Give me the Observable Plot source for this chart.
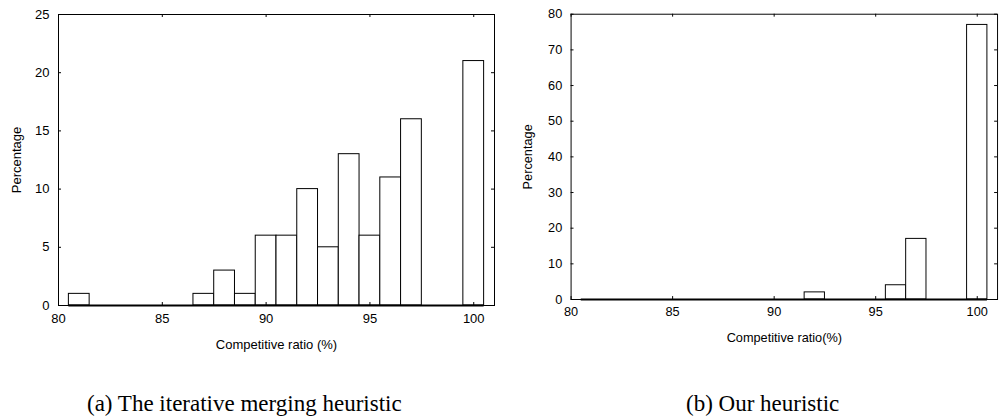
<!DOCTYPE html>
<html><head><meta charset="utf-8">
<script src="https://cdn.jsdelivr.net/npm/d3@7"></script>
<script src="https://cdn.jsdelivr.net/npm/@observablehq/plot@0.6"></script>
<style>
html,body{margin:0;padding:0;background:#fff}
body{overflow:hidden;width:1000px;height:416px;position:relative;font-family:"Liberation Sans",Arial,sans-serif}
#a{position:absolute;left:0;top:0}
#b{position:absolute;left:500px;top:0}
.cap{position:absolute;font-family:"Liberation Serif","Times New Roman",serif;font-size:23px;white-space:nowrap;line-height:1;color:#000}
#capA{left:87px;top:392px}
#capB{left:686px;top:392px}
</style></head><body>
<div id="a"></div><div id="b"></div>
<div class="cap" id="capA">(a) The iterative merging heuristic</div>
<div class="cap" id="capB">(b) Our heuristic</div>
<script>
// Competitive ratio bins (%), centre of each 1%-wide bin
const ratios = [81,82,83,84,85,86,87,88,89,90,91,92,93,94,95,96,97,98,99,100];
// (a) The iterative merging heuristic: percentage per bin
const iterativeMerging = [1,0,0,0,0,0,1,3,1,6,6,10,5,13,6,11,16,0,0,21];
// (b) Our heuristic: percentage per bin
const ourHeuristic = [0,0,0,0,0,0,0,0,0,0,0,2,0,0,0,4,17,0,0,77];
const xTicks = [80,85,90,95,100];
const yTicksA = [0,5,10,15,20,25];
const yTicksB = [0,10,20,30,40,50,60,70,80];

function panel({values, yTicks, yMax, width, marginLeft, marginRight, xLabel, labelOffsetY}) {
  const data = ratios.map((r, i) => ({r, v: values[i]}));
  const top = 14, bottom = 305, H = 360;
  const plotH = bottom - top, plotW = width - marginLeft - marginRight;
  const t = 3;
  return Plot.plot({
    width, height: H,
    marginTop: top, marginBottom: H - bottom, marginLeft, marginRight,
    style: {fontFamily: '"Liberation Sans", Arial, sans-serif', fontSize: "13px", color: "#000", background: "#fff", overflow: "visible"},
    x: {domain: [80, 101], label: xLabel, labelArrow: "none"},
    y: {domain: [0, yMax], label: "Percentage", labelArrow: "none"},
    marks: [
      Plot.rect(data, {x1: d => d.r - 0.5, x2: d => d.r + 0.5, y1: 0, y2: "v", fill: "#fff", stroke: "#000", strokeWidth: 1}),
      Plot.ruleY([0], {x1: d3.min(ratios) - 0.5, x2: d3.max(ratios) + 0.5, stroke: "#000", strokeWidth: 2}),
      Plot.tickX(xTicks, {x: d => d, insetTop: plotH - t, stroke: "#000"}),
      Plot.tickX(xTicks, {x: d => d, insetBottom: plotH - t, stroke: "#000"}),
      Plot.tickY(yTicks, {y: d => d, insetRight: plotW - t, stroke: "#000"}),
      Plot.tickY(yTicks, {y: d => d, insetLeft: plotW - t, stroke: "#000"}),
      Plot.frame({stroke: "#000"}),
      Plot.axisX({ticks: xTicks, tickSize: 0, tickPadding: 8, label: xLabel, labelArrow: "none", labelAnchor: "center", labelOffset: 43}),
      Plot.axisY({ticks: yTicks, tickSize: 0, tickPadding: 9, label: "Percentage", labelArrow: "none", labelAnchor: "center", labelOffset: labelOffsetY})
    ]
  });
}

document.getElementById("a").append(panel({
  values: iterativeMerging, yTicks: yTicksA, yMax: 25,
  width: 500, marginLeft: 58, marginRight: 6,
  xLabel: "Competitive ratio (%)", labelOffsetY: 47
}));
document.getElementById("b").append(panel({
  values: ourHeuristic, yTicks: yTicksB, yMax: 80,
  width: 510, marginLeft: 72, marginRight: 3,
  xLabel: "Competitive ratio(%)", labelOffsetY: 49
}));
</script>
</body></html>
